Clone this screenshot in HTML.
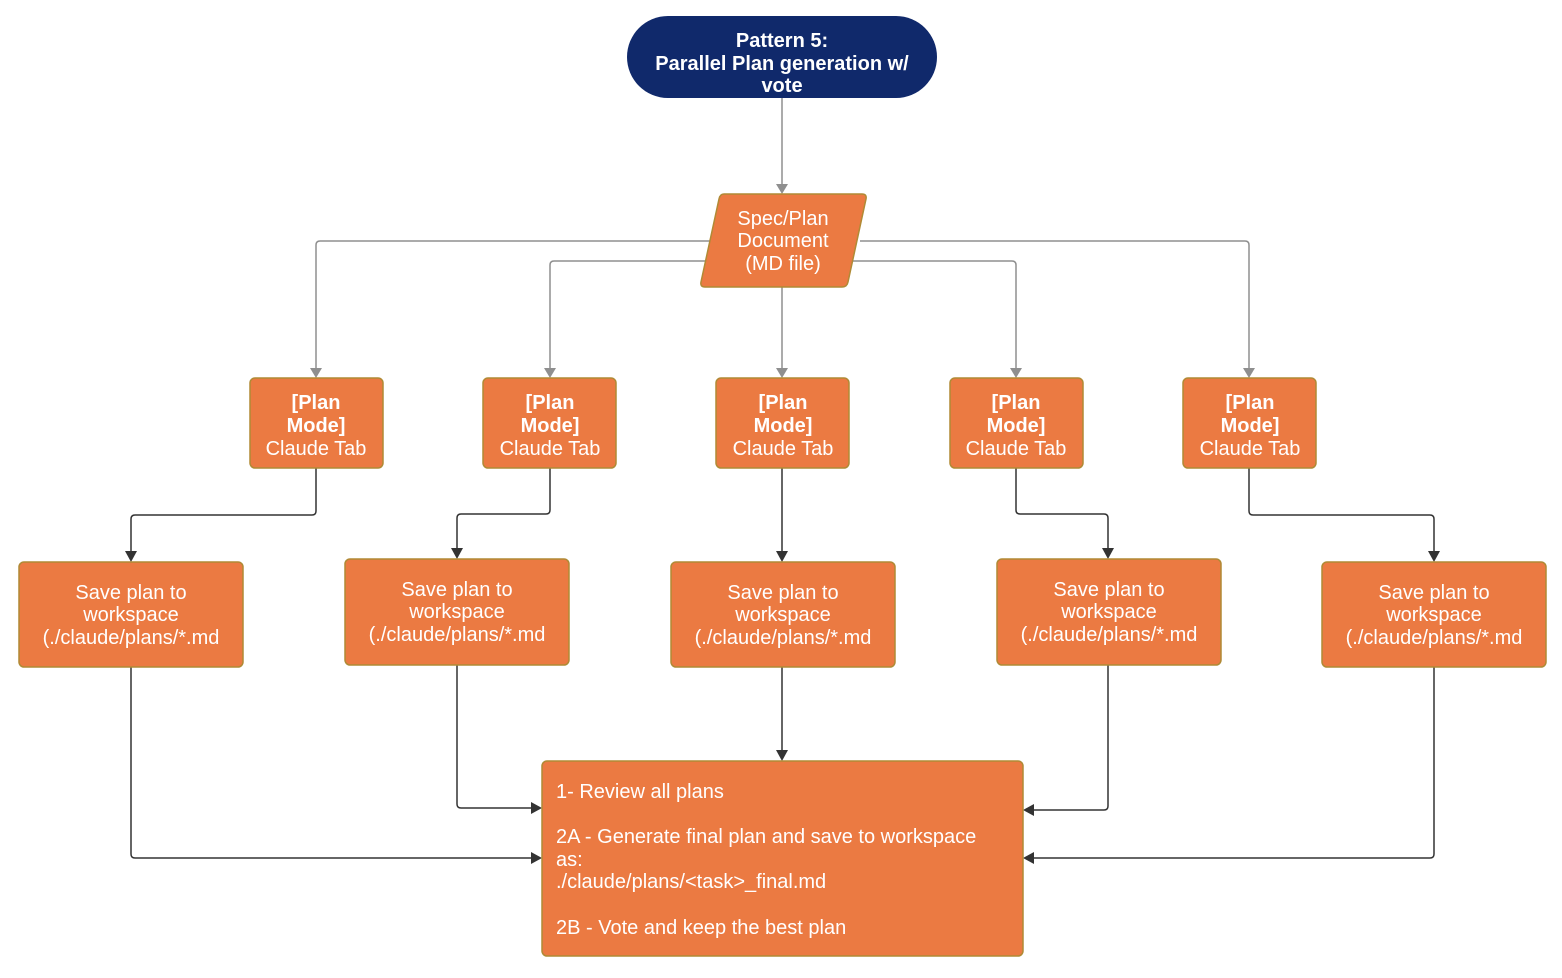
<!DOCTYPE html>
<html><head><meta charset="utf-8"><style>
body{margin:0;background:#fff;width:1562px;height:978px;overflow:hidden}
svg{display:block}
text{font-family:"Liberation Sans",Arial,sans-serif;fill:#fff}
</style></head><body>
<svg width="1562" height="978" viewBox="0 0 1562 978">
<g fill="none" stroke="#8f8f8f" stroke-width="1.5">
<path d="M782,98 V188"/>
<path d="M710,241 H320 Q316,241 316,245 V372"/>
<path d="M706,261 H554 Q550,261 550,265 V372"/>
<path d="M782,287 V372"/>
<path d="M852,261 H1012 Q1016,261 1016,265 V372"/>
<path d="M860,241 H1245 Q1249,241 1249,245 V372"/>
</g>
<g fill="#8f8f8f">
<path d="M776,184 L788,184 L782,194 Z"/>
<path d="M310,368 L322,368 L316,378 Z"/>
<path d="M544,368 L556,368 L550,378 Z"/>
<path d="M776,368 L788,368 L782,378 Z"/>
<path d="M1010,368 L1022,368 L1016,378 Z"/>
<path d="M1243,368 L1255,368 L1249,378 Z"/>
</g>
<g fill="none" stroke="#333" stroke-width="1.5">
<path d="M316,468 V511 Q316,515 312,515 H135 Q131,515 131,519 V554"/>
<path d="M550,468 V510 Q550,514 546,514 H461 Q457,514 457,518 V551"/>
<path d="M782,468 V554"/>
<path d="M1016,468 V510 Q1016,514 1020,514 H1104 Q1108,514 1108,518 V551"/>
<path d="M1249,468 V511 Q1249,515 1253,515 H1430 Q1434,515 1434,519 V554"/>
<path d="M131,667 V854 Q131,858 135,858 H534"/>
<path d="M457,665 V804 Q457,808 461,808 H534"/>
<path d="M782,667 V753"/>
<path d="M1108,665 V806 Q1108,810 1104,810 H1031"/>
<path d="M1434,667 V854 Q1434,858 1430,858 H1031"/>
</g>
<g fill="#333">
<path d="M125,551 L137,551 L131,562 Z"/>
<path d="M451,548 L463,548 L457,559 Z"/>
<path d="M776,551 L788,551 L782,562 Z"/>
<path d="M1102,548 L1114,548 L1108,559 Z"/>
<path d="M1428,551 L1440,551 L1434,562 Z"/>
<path d="M776,750 L788,750 L782,761 Z"/>
<path d="M531,802 L531,814 L542,808 Z"/>
<path d="M531,852 L531,864 L542,858 Z"/>
<path d="M1034,804 L1034,816 L1023,810 Z"/>
<path d="M1034,852 L1034,864 L1023,858 Z"/>
</g>
<rect x="627" y="16" width="310" height="82" rx="41" fill="#10296b"/>
<g font-weight="bold" font-size="20" text-anchor="middle">
<text x="782" y="47">Pattern 5:</text>
<text x="782" y="70">Parallel Plan generation w/</text>
<text x="782" y="92">vote</text>
</g>
<g fill="#eb7a42" stroke="#b08a35" stroke-width="1.5">
<path d="M724,194 H862 Q867,194 866,199 L848,282 Q847,287 842,287 H705 Q700,287 701,282 L719,199 Q720,194 724,194 Z"/>
<rect x="250" y="378" width="133" height="90" rx="5"/>
<rect x="483" y="378" width="133" height="90" rx="5"/>
<rect x="716" y="378" width="133" height="90" rx="5"/>
<rect x="950" y="378" width="133" height="90" rx="5"/>
<rect x="1183" y="378" width="133" height="90" rx="5"/>
<rect x="19" y="562" width="224" height="105" rx="5"/>
<rect x="345" y="559" width="224" height="106" rx="5"/>
<rect x="671" y="562" width="224" height="105" rx="5"/>
<rect x="997" y="559" width="224" height="106" rx="5"/>
<rect x="1322" y="562" width="224" height="105" rx="5"/>
<rect x="542" y="761" width="481" height="195" rx="5"/>
</g>
<g font-size="20" text-anchor="middle">
<text x="783" y="225">Spec/Plan</text>
<text x="783" y="247">Document</text>
<text x="783" y="270">(MD file)</text>
</g>
<g font-size="20" text-anchor="middle">
<g transform="translate(316,0)"><text y="409" font-weight="bold">[Plan</text><text y="432" font-weight="bold">Mode]</text><text y="455">Claude Tab</text></g>
<g transform="translate(550,0)"><text y="409" font-weight="bold">[Plan</text><text y="432" font-weight="bold">Mode]</text><text y="455">Claude Tab</text></g>
<g transform="translate(783,0)"><text y="409" font-weight="bold">[Plan</text><text y="432" font-weight="bold">Mode]</text><text y="455">Claude Tab</text></g>
<g transform="translate(1016,0)"><text y="409" font-weight="bold">[Plan</text><text y="432" font-weight="bold">Mode]</text><text y="455">Claude Tab</text></g>
<g transform="translate(1250,0)"><text y="409" font-weight="bold">[Plan</text><text y="432" font-weight="bold">Mode]</text><text y="455">Claude Tab</text></g>
<g transform="translate(131,0)"><text y="599">Save plan to</text><text y="621">workspace</text><text y="644">(./claude/plans/*.md</text></g>
<g transform="translate(457,-3)"><text y="599">Save plan to</text><text y="621">workspace</text><text y="644">(./claude/plans/*.md</text></g>
<g transform="translate(783,0)"><text y="599">Save plan to</text><text y="621">workspace</text><text y="644">(./claude/plans/*.md</text></g>
<g transform="translate(1109,-3)"><text y="599">Save plan to</text><text y="621">workspace</text><text y="644">(./claude/plans/*.md</text></g>
<g transform="translate(1434,0)"><text y="599">Save plan to</text><text y="621">workspace</text><text y="644">(./claude/plans/*.md</text></g>
</g>
<g font-size="20">
<text x="556" y="798">1- Review all plans</text>
<text x="556" y="843">2A - Generate final plan and save to workspace</text>
<text x="556" y="866">as:</text>
<text x="556" y="888">./claude/plans/&lt;task&gt;_final.md</text>
<text x="556" y="934">2B - Vote and keep the best plan</text>
</g>
</svg>
</body></html>
